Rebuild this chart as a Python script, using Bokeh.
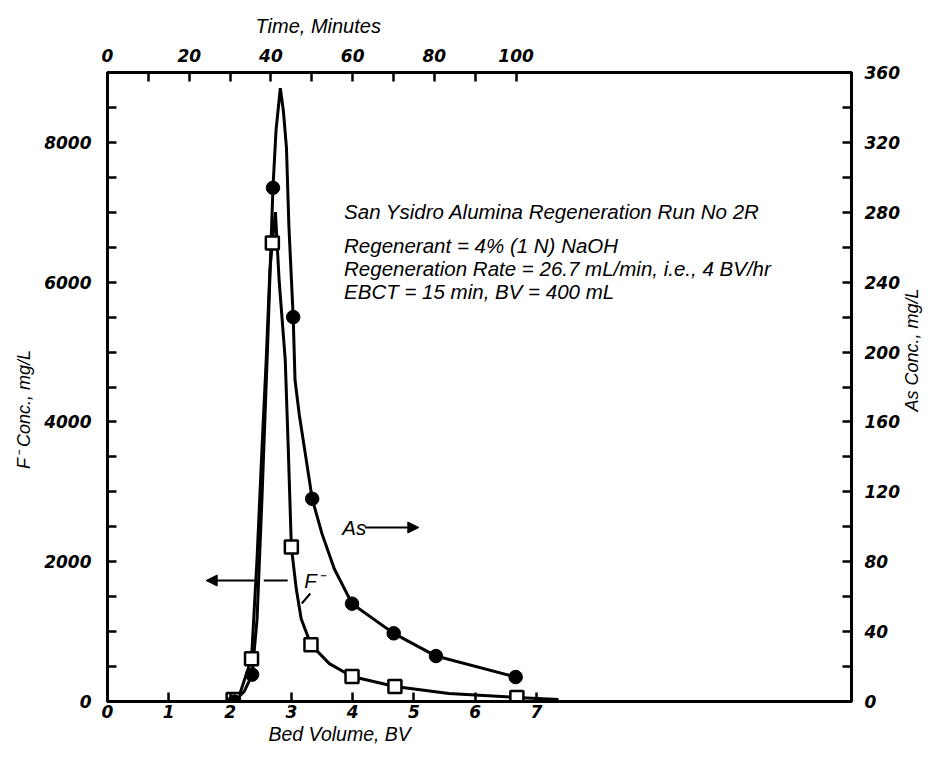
import math
from bokeh.plotting import figure
from bokeh.models import Range1d, LinearAxis, FixedTicker, Label, Arrow, NormalHead, Title
from bokeh.embed import file_html
from bokeh.resources import INLINE

# ---------------- data ----------------
# F- (left axis, mg/L) measured points (open squares)
f_bv = [2.05, 2.35, 2.69, 3.00, 3.32, 3.99, 4.69, 6.68]
f_conc = [30, 613, 6561, 2211, 813, 357, 214, 57]
# F- hand-drawn curve
f_curve_bv = [2.02, 2.15, 2.35, 2.44, 2.52, 2.59, 2.65, 2.69, 2.74, 2.80, 2.85, 2.90,
              2.95, 3.00, 3.08, 3.16, 3.32, 3.62, 3.99, 4.69, 5.57, 6.68, 7.36]
f_curve = [0, 86, 613, 2040, 3609, 4892, 6176, 6561, 7003, 6033, 5460, 4892,
           3609, 2211, 1612, 1184, 813, 542, 357, 214, 114, 57, 29]

# As (right axis, mg/L) measured points (filled circles)
as_bv = [2.07, 2.36, 2.70, 3.03, 3.34, 3.99, 4.67, 5.36, 6.66]
as_conc = [0, 15.4, 294, 220, 116, 56, 39, 26, 14]
# As hand-drawn curve
as_curve_bv = [2.07, 2.23, 2.36, 2.44, 2.52, 2.61, 2.67, 2.70, 2.75, 2.82, 2.87, 2.92,
               2.96, 3.03, 3.06, 3.13, 3.24, 3.34, 3.50, 3.70, 3.99, 4.67, 5.36, 6.66]
as_curve = [0, 5.7, 15.4, 47, 116, 201, 264, 294, 327, 351, 338, 317,
            272, 220, 184, 164, 139, 116, 96, 76, 56, 39, 26, 14]

# axis ticks
bv_ticks = [0, 1, 2, 3, 4, 5, 6, 7]
time_ticks = [0, 20, 40, 60, 80, 100]
time_minor = [10, 30, 50, 70, 90]
f_ticks = [0, 2000, 4000, 6000, 8000]
f_minor = [500, 1000, 1500, 2500, 3000, 3500, 4500, 5000, 5500, 6500, 7000, 7500, 8500]
as_ticks = [0, 40, 80, 120, 160, 200, 240, 280, 320, 360]
as_minor = [20, 60, 100, 140, 180, 220, 260, 300, 340]

BV_MAX = 12.14
F_MAX = 9000
AS_MAX = 360
MIN_PER_BV = 15  # 4 BV/hr

TICK_FONT = "DejaVu Sans"
TEXT_FONT = "Liberation Sans"
NB = "\u00a0"

p = figure(width=934, height=745, min_border_left=107, min_border_right=79,
           min_border_top=72, min_border_bottom=44,
           x_range=Range1d(0, BV_MAX), y_range=Range1d(0, F_MAX),
           output_backend="svg", toolbar_location=None,
           x_axis_location=None, y_axis_location=None)
p.grid.visible = False
p.outline_line_color = "black"
p.outline_line_width = 3
p.background_fill_color = "white"
p.border_fill_color = "white"

p.extra_y_ranges = {"as": Range1d(0, AS_MAX)}
p.extra_x_ranges = {"time": Range1d(0, BV_MAX * MIN_PER_BV)}


def style(ax, standoff):
    ax.axis_line_color = "black"
    ax.axis_line_width = 3
    ax.major_tick_in = 9
    ax.major_tick_out = 0
    ax.minor_tick_in = 9
    ax.minor_tick_out = 0
    ax.major_tick_line_width = 2.5
    ax.minor_tick_line_width = 2.5
    ax.major_label_text_font = TICK_FONT
    ax.major_label_text_font_style = "bold italic"
    ax.major_label_text_font_size = "17px"
    ax.major_label_text_color = "black"
    ax.major_label_standoff = standoff
    ax.axis_label_text_font = TEXT_FONT
    ax.axis_label_text_font_style = "italic"
    ax.axis_label_text_font_size = "18px"
    ax.axis_label_text_color = "black"


bottom = LinearAxis(ticker=FixedTicker(ticks=bv_ticks))
style(bottom, 3)
p.add_layout(bottom, "below")

top = LinearAxis(x_range_name="time", ticker=FixedTicker(ticks=time_ticks, minor_ticks=time_minor))
style(top, 11)
p.add_layout(top, "above")

left = LinearAxis(ticker=FixedTicker(ticks=f_ticks, minor_ticks=f_minor),
                  axis_label="F\u207b Conc., mg/L" + NB * 9)
style(left, 16)
left.axis_label_standoff = 7
p.add_layout(left, "left")

right = LinearAxis(y_range_name="as", ticker=FixedTicker(ticks=as_ticks, minor_ticks=as_minor))
style(right, 13)
right.axis_label_standoff = 9
right.axis_label_orientation = math.pi / 2
right.axis_label_align = "start"
right.axis_label = NB * 58 + "As Conc., mg/L"
p.add_layout(right, "right")

# titles of the horizontal axes
p.title.text = "Time, Minutes"
p.title.align = "left"
p.title.offset = 148
p.title.standoff = 18
p.title.text_font = TEXT_FONT
p.title.text_font_style = "italic"
p.title.text_font_size = "20px"
p.title.text_color = "black"

p.add_layout(Title(text="Bed Volume, BV", align="left", offset=161, standoff=0,
                   text_font=TEXT_FONT, text_font_style="italic", text_font_size="19.5px",
                   text_color="black"), "below")

# curves
p.line(f_curve_bv, f_curve, line_color="black", line_width=3)
p.line(as_curve_bv, as_curve, line_color="black", line_width=3, y_range_name="as")

# markers
p.scatter(f_bv, f_conc, marker="square", size=13, fill_color="white",
          line_color="black", line_width=2.5)
p.scatter(as_bv, as_conc, marker="circle", size=13.5, fill_color="black",
          line_color="black", y_range_name="as")


# ---- text annotations (data coordinates: x in BV, y in F- mg/L) ----
def txt(x, y, s, size="20.5px", align="left"):
    p.add_layout(Label(x=x, y=y, text=s, text_font=TEXT_FONT, text_font_style="italic",
                       text_font_size=size, text_align=align, text_baseline="middle",
                       text_color="black"))


txt(3.86, 7011, "San Ysidro Alumina Regeneration Run No 2R")
txt(3.86, 6525, "Regenerant = 4% (1 N) NaOH")
txt(3.86, 6195, "Regeneration Rate = 26.7 mL/min, i.e., 4 BV/hr")
txt(3.86, 5866, "EBCT = 15 min, BV = 400 mL")

# As label + arrow to the right
txt(3.83, 2490, "As")
p.add_layout(Arrow(end=NormalHead(size=11, fill_color="black", line_color="black"),
                   x_start=4.20, y_start=2490, x_end=5.08, y_end=2490,
                   line_color="black", line_width=2))

# F- label + arrow to the left
txt(3.21, 1731, "F\u207b")
p.add_layout(Arrow(end=NormalHead(size=11, fill_color="black", line_color="black"),
                   x_start=2.40, y_start=1731, x_end=1.61, y_end=1731,
                   line_color="black", line_width=2))
p.segment(x0=[2.55], y0=[1731], x1=[2.94], y1=[1731], line_color="black", line_width=2)
p.segment(x0=[3.31], y0=[1545], x1=[3.17], y1=[1402], line_color="black", line_width=2)

open("out.html", "w").write(file_html(p, INLINE))
